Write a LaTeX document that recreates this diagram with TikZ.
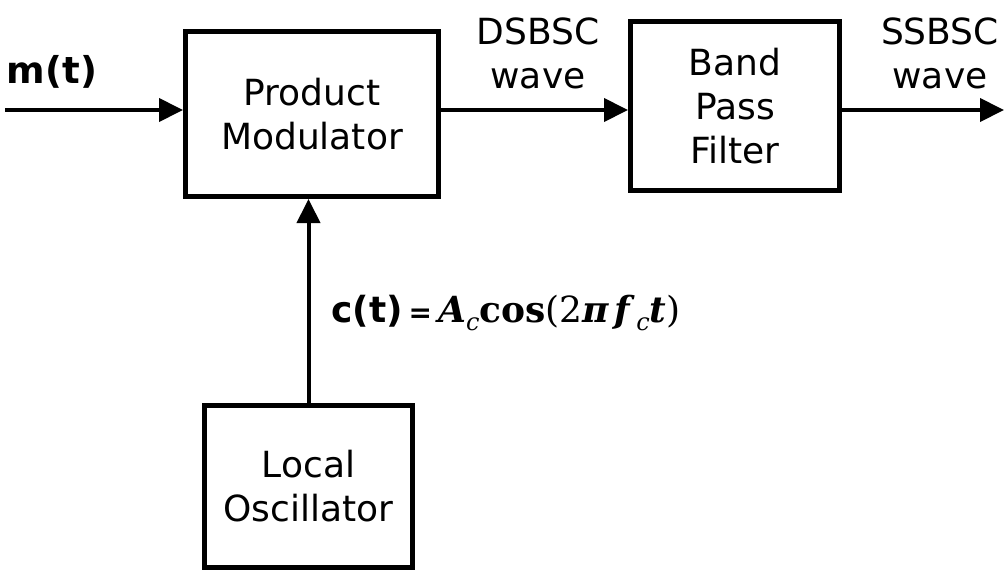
\RequirePackage{fix-cm}
\documentclass[tikz,border=0pt]{standalone}
\usepackage{fontspec}
\setmainfont{DejaVu Sans}
\newfontfamily\serf{DejaVu Serif}
\usetikzlibrary{arrows.meta}
\newcommand{\subc}{\raisebox{-0.22em}{\fontsize{24}{24}\selectfont\itshape c}}
\begin{document}
\begin{tikzpicture}[x=1pt,y=-1pt,
  every node/.style={font=\fontsize{36}{44}\selectfont},
  blockbox/.style={draw,line width=5pt,inner sep=0pt,align=center},
  sig/.style={line width=4pt,-{Triangle[length=24pt,width=23pt]}},
  lbl/.style={align=center,inner sep=0pt}]
\useasboundingbox (0,0) rectangle (1006,571);
\node[blockbox,minimum width=253pt,minimum height=165pt] (pm) at (312,114) {Product\\Modulator};
\node[blockbox,minimum width=209pt,minimum height=169pt] (bpf) at (735,106) {Band\\Pass\\Filter};
\node[blockbox,minimum width=208pt,minimum height=162pt] (lo) at (308.5,486.5) {Local\\Oscillator};
\coordinate (in) at (5,110);
\coordinate (out) at (1004,110);
\draw[sig] (in) -- (in -| pm.west);
\draw[sig] (pm.east |- in) -- (bpf.west |- in);
\draw[sig] (bpf.east |- in) -- (out);
\draw[sig] (lo.north) -- (lo.north |- pm.south);
\node[lbl,font=\fontsize{37}{44}\selectfont\bfseries] (mt) at (52,72) {m(t)};
\node[lbl] (ds) at (538,53) {DSBSC\\wave};
\node[lbl] (ss) at (940,53) {SSBSC\\wave};
\node[lbl,anchor=west] (ct) at (331,313) {\textbf{c(t)}\,{\fontsize{28}{30}\selectfont\textbf{=}}\,{\serf\fontsize{36}{44}\selectfont{\bfseries\itshape A}\subc{\bfseries cos}(2{\bfseries\itshape π\,f}\,\subc{\bfseries\itshape t})}};
\end{tikzpicture}
\end{document}
